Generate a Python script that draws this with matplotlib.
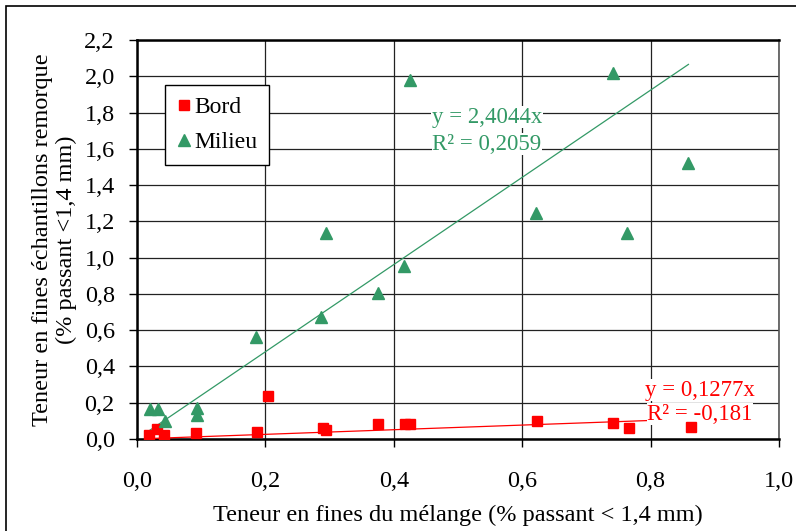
import matplotlib.pyplot as plt
from matplotlib.ticker import FuncFormatter, MultipleLocator
from matplotlib.patches import Rectangle

# valeurs
x_bord = [0.019, 0.031, 0.042, 0.092, 0.187, 0.204, 0.290, 0.294, 0.375,
          0.417, 0.425, 0.623, 0.741, 0.766, 0.863]
y_bord = [0.022, 0.055, 0.022, 0.033, 0.039, 0.237, 0.060, 0.050, 0.080,
          0.080, 0.080, 0.100, 0.088, 0.060, 0.066]

x_milieu = [0.020, 0.032, 0.044, 0.093, 0.093, 0.186, 0.287, 0.295, 0.375,
            0.416, 0.425, 0.622, 0.741, 0.763, 0.859]
y_milieu = [0.165, 0.165, 0.100, 0.170, 0.130, 0.560, 0.675, 1.135, 0.806,
            0.955, 1.980, 1.245, 2.020, 1.135, 1.520]

pente_bord = 0.1277
pente_milieu = 2.4044

rouge = '#FF0000'
vert = '#339966'

plt.rcParams['font.family'] = 'Liberation Serif'

fig = plt.figure(figsize=(7.96, 5.31), dpi=100)
ax = fig.add_axes([0.1721, 0.1733, 0.8065, 0.7514])

# cadre autour du graphique
fig.patches.append(Rectangle((6 / 796, -0.1), 1.2, 1 - 6 / 531 + 0.1,
                             transform=fig.transFigure, fill=False,
                             edgecolor='black', linewidth=1.2))

ax.plot(x_bord, y_bord, 's', color=rouge, markersize=7.5, label='Bord',
        zorder=4)
ax.plot(x_milieu, y_milieu, '^', color=vert, markersize=8.5, label='Milieu',
        zorder=4)

# courbes de tendance
xb = [min(x_bord), max(x_bord)]
ax.plot(xb, [pente_bord * v for v in xb], color=rouge, linewidth=0.9, zorder=3)
xm = [min(x_milieu), max(x_milieu)]
ax.plot(xm, [pente_milieu * v for v in xm], color=vert, linewidth=0.9,
        zorder=3)

ax.set_xlim(0, 1.0)
ax.set_ylim(0, 2.2)
ax.xaxis.set_major_locator(MultipleLocator(0.2))
ax.yaxis.set_major_locator(MultipleLocator(0.2))
virgule = FuncFormatter(lambda v, p: f'{v:.1f}'.replace('.', ','))
ax.xaxis.set_major_formatter(virgule)
ax.yaxis.set_major_formatter(virgule)
ax.grid(True, color='#222222', linewidth=0.9)
ax.set_axisbelow(True)
for s in ax.spines.values():
    s.set_linewidth(1.8)
ax.spines['right'].set_linewidth(1.2)
ax.spines['right'].set_color('#555555')
ax.tick_params(axis='y', direction='out', length=6, width=1, pad=10,
               labelsize=17.5)
ax.tick_params(axis='x', direction='out', length=6, width=1, pad=17,
               labelsize=17.5)

ax.set_xlabel('Teneur en fines du mélange (% passant < 1,4 mm)', fontsize=17.5,
              labelpad=9)
ax.set_ylabel('Teneur en fines échantillons remorque\n(% passant <1,4 mm)',
              fontsize=17.5, labelpad=5, linespacing=1.2)

boite = dict(facecolor='white', edgecolor='none', pad=0.5)
ax.text(0.459, 1.775, 'y = 2,4044x', color=vert, fontsize=16.5, bbox=boite,
        va='center', zorder=3.5)
ax.text(0.460, 1.625, 'R² = 0,2059', color=vert, fontsize=16.5, bbox=boite,
        va='center', zorder=3.5)
ax.text(0.791, 0.270, 'y = 0,1277x', color=rouge, fontsize=16.5, bbox=boite,
        va='center', zorder=3.5)
ax.text(0.795, 0.137, 'R² = -0,181', color=rouge, fontsize=16.5, bbox=boite,
        va='center', zorder=3.5)

leg = ax.legend(loc='upper left', bbox_to_anchor=(0.0436, 0.887),
                borderaxespad=0, fontsize=17, fancybox=False, framealpha=1,
                edgecolor='black', handlelength=0.6, handletextpad=0.15,
                borderpad=0.5, labelspacing=0.55, numpoints=1)
leg.get_frame().set_linewidth(1)

fig.savefig('out.png', dpi=100)
